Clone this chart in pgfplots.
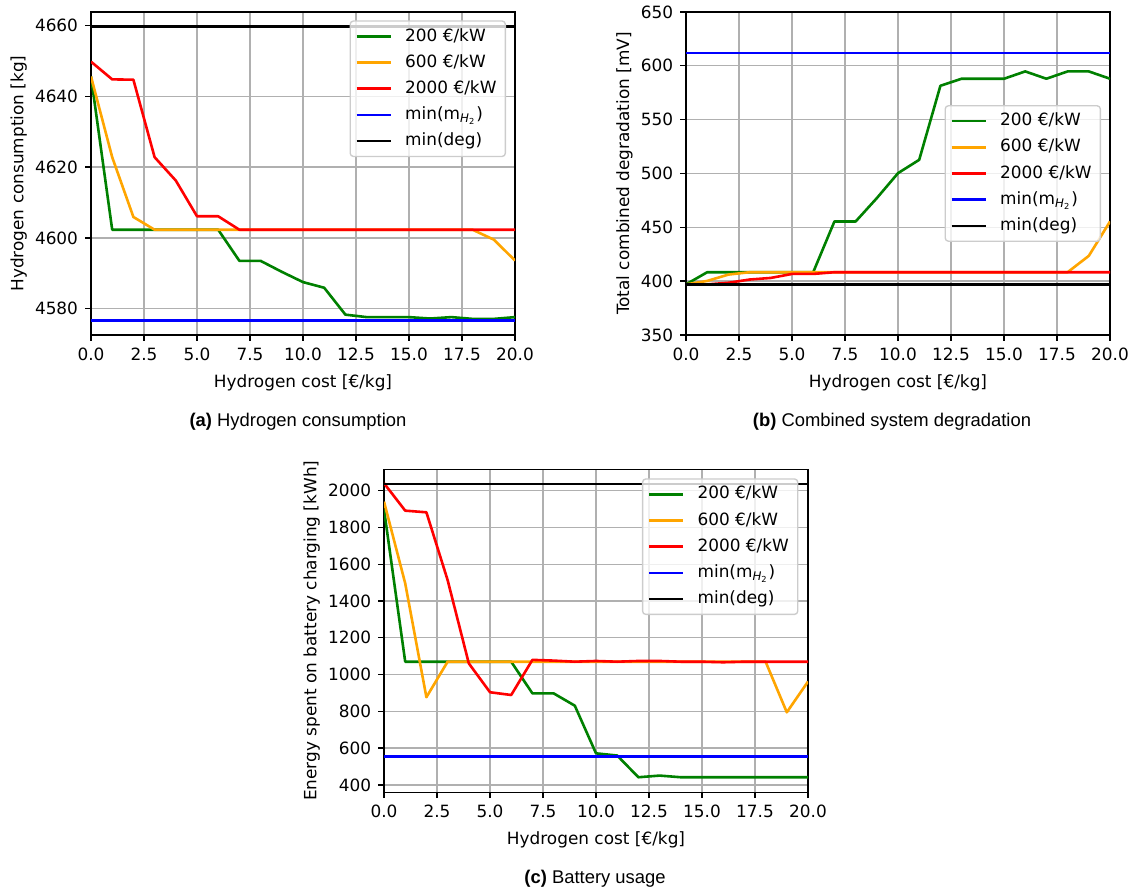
\documentclass[border=0pt]{standalone}
\usepackage{fontspec}
\setmainfont{DejaVu Sans}
\newfontfamily\capfont{Liberation Sans}
\usepackage{pgfplots}
\pgfplotsset{compat=1.18}
\definecolor{mplgreen}{HTML}{008000}
\definecolor{mplorange}{HTML}{FFA500}
\definecolor{mplred}{HTML}{FF0000}
\definecolor{mplblue}{HTML}{0000FF}
\definecolor{mplgrid}{HTML}{B0B0B0}
\definecolor{legedge}{HTML}{CCCCCC}
\newcommand{\mplfont}{\fontsize{8.45}{10}\selectfont}
\pgfplotsset{
  mpl/.style={
    scale only axis, width=212pt, height=161.5pt,
    xmin=0, xmax=20, xtick={0,2.5,5,7.5,10,12.5,15,17.5,20},
    x tick label style={/pgf/number format/.cd, fixed, fixed zerofill, precision=1, /tikz/.cd},
    y tick label style={/pgf/number format/.cd, fixed, precision=0, 1000 sep={}, /tikz/.cd},
    scaled ticks=false,
    /pgf/number format/assume math mode=true,
    tick label style={font=\mplfont},
    label style={font=\mplfont},
    ylabel shift={-2.8pt},
    grid=major, grid style={color=mplgrid, line width=0.68pt},
    axis line style={line width=0.68pt, black},
    tick align=outside, tick pos=left,
    major tick length=2.96pt,
    every tick/.style={black, line width=0.68pt},
    xlabel={Hydrogen cost [€/kg]},
    legend cell align=left,
    legend image code/.code={\draw[##1, line width=1.3pt] (0pt,0pt) -- (17pt,0pt);},
    legend style={font=\mplfont, draw=legedge, line width=0.68pt, rounded corners=1.6pt,
      fill=white, fill opacity=0.8, text opacity=1,
      inner xsep=2.6pt, inner ysep=1.1pt, row sep=0pt, column sep=4.8pt,
      nodes={inner xsep=1.8pt, inner ysep=2.1pt, text height=6.8pt, text depth=2.1pt}},
    every axis plot/.append style={line width=1.3pt, line join=round},
  },
}
\pgfplotstableread{
x  g       o       r
0  4645.6  4645.6  4649.8
1  4602.3  4622.8  4644.8
2  4602.3  4605.9  4644.7
3  4602.3  4602.3  4622.8
4  4602.3  4602.3  4616.2
5  4602.3  4602.3  4606.1
6  4602.3  4602.3  4606.1
7  4593.5  4602.3  4602.3
8  4593.5  4602.3  4602.3
9  4590.4  4602.3  4602.3
10 4587.5  4602.3  4602.3
11 4585.9  4602.3  4602.3
12 4578.3  4602.3  4602.3
13 4577.6  4602.3  4602.3
14 4577.6  4602.3  4602.3
15 4577.6  4602.3  4602.3
16 4577.2  4602.3  4602.3
17 4577.6  4602.3  4602.3
18 4577.1  4602.3  4602.3
19 4577.1  4599.5  4602.3
20 4577.6  4593.6  4602.3
}\tabA
\pgfplotstableread{
x  g      o      r
0  397.0  397.0  397.0
1  408.3  400.2  397.0
2  408.3  406.1  398.5
3  408.3  408.3  401.5
4  408.3  408.3  403.0
5  408.3  408.3  406.7
6  408.3  408.3  406.7
7  455.4  408.3  408.3
8  455.4  408.3  408.3
9  477.1  408.3  408.3
10 500.3  408.3  408.3
11 512.7  408.3  408.3
12 581.5  408.3  408.3
13 588.0  408.3  408.3
14 588.0  408.3  408.3
15 588.0  408.3  408.3
16 594.8  408.3  408.3
17 588.0  408.3  408.3
18 594.8  408.3  408.3
19 594.8  423.5  408.3
20 588.0  455.4  408.3
}\tabB
\pgfplotstableread{
x  g     o     r
0  1898  1940  2040
1  1070  1496  1891
2  1070  877   1882
3  1070  1070  1514
4  1070  1070  1061
5  1070  1070  904
6  1070  1070  889
7  898   1070  1080
8  898   1070  1076
9  831   1070  1070
10 572   1070  1074
11 560   1070  1070
12 442   1070  1074
13 451   1070  1074
14 442   1070  1070
15 442   1070  1070
16 442   1070  1067
17 442   1070  1070
18 442   1070  1070
19 442   795   1070
20 442   962   1070
}\tabC
\begin{document}
\begin{tikzpicture}
\path[use as bounding box] (0,0) rectangle (566.5pt,443.5pt);
% (a)
\begin{axis}[mpl, at={(45.5pt,276pt)}, anchor=south west,
  ymin=4572.55, ymax=4663.85, ytick={4580,4600,4620,4640,4660},
  ylabel={Hydrogen consumption [kg]},
  legend style={at={(1,1)}, anchor=north east, xshift=-4.5pt, yshift=-4.2pt}]
\addplot[mplgreen] table[x=x,y=g] {\tabA};
\addplot[mplorange] table[x=x,y=o] {\tabA};
\addplot[mplred] table[x=x,y=r] {\tabA};
\addplot[mplblue] coordinates {(0,4576.7) (20,4576.7)};
\addplot[black] coordinates {(0,4659.7) (20,4659.7)};
\legend{200 €/kW, 600 €/kW, 2000 €/kW, min(m\textsubscript{\textit{H}\textsubscript{2}}), min(deg)}
\end{axis}
% (b)
\begin{axis}[mpl, at={(343pt,276pt)}, anchor=south west,
  ymin=350, ymax=650, ytick={350,400,...,650},
  ylabel={Total combined degradation [mV]},
  legend style={at={(1,0.5)}, anchor=east, xshift=-4.5pt}]
\addplot[mplgreen] table[x=x,y=g] {\tabB};
\addplot[mplorange] table[x=x,y=o] {\tabB};
\addplot[mplred] table[x=x,y=r] {\tabB};
\addplot[mplblue] coordinates {(0,611.9) (20,611.9)};
\addplot[black] coordinates {(0,397.1) (20,397.1)};
\legend{200 €/kW, 600 €/kW, 2000 €/kW, min(m\textsubscript{\textit{H}\textsubscript{2}}), min(deg)}
\end{axis}
% (c)
\begin{axis}[mpl, at={(192pt,47.35pt)}, anchor=south west,
  ymin=360.2, ymax=2115.8, ytick={400,600,...,2000},
  ylabel={Energy spent on battery charging [kWh]},
  legend style={at={(1,1)}, anchor=north east, xshift=-4.8pt, yshift=-4.5pt}]
\addplot[mplgreen] table[x=x,y=g] {\tabC};
\addplot[mplorange] table[x=x,y=o] {\tabC};
\addplot[mplred] table[x=x,y=r] {\tabC};
\addplot[mplblue] coordinates {(0,556) (20,556)};
\addplot[black] coordinates {(0,2036) (20,2036)};
\legend{200 €/kW, 600 €/kW, 2000 €/kW, min(m\textsubscript{\textit{H}\textsubscript{2}}), min(deg)}
\end{axis}
\node[font=\capfont\fontsize{9.2}{11}\selectfont] at (149pt,232.5pt) {\textbf{(a)} Hydrogen consumption};
\node[font=\capfont\fontsize{9.2}{11}\selectfont] at (446pt,232.5pt) {\textbf{(b)} Combined system degradation};
\node[font=\capfont\fontsize{9.2}{11}\selectfont] at (297.5pt,4pt) {\textbf{(c)} Battery usage};
\end{tikzpicture}
\end{document}
